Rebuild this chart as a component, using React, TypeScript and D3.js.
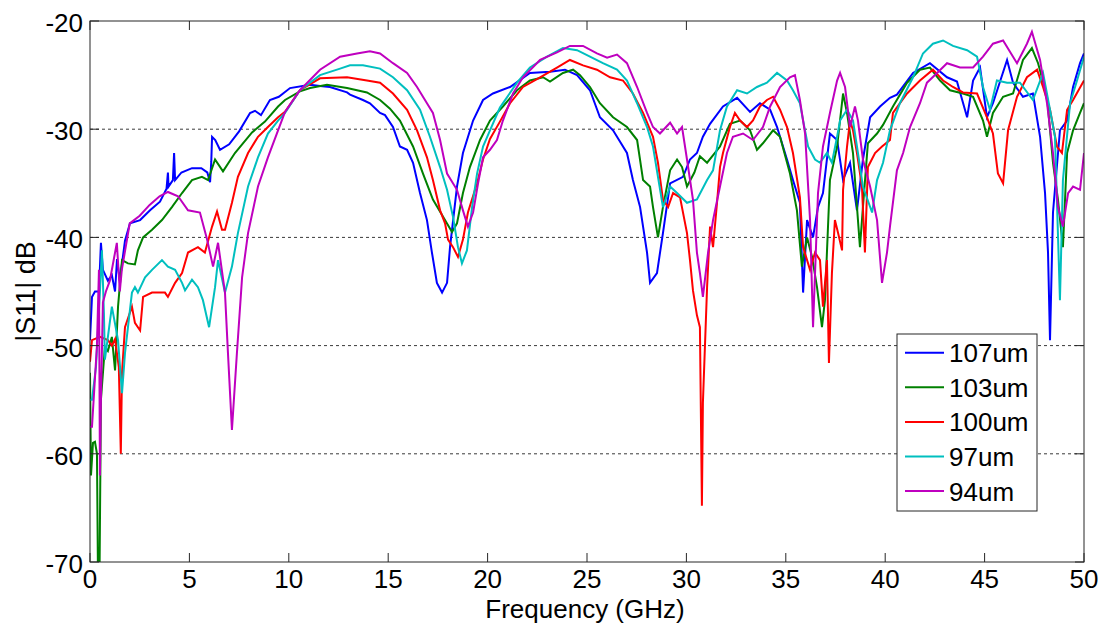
import React from "react";
import * as d3 from "d3";

const X_TICKS = [0, 5, 10, 15, 20, 25, 30, 35, 40, 45, 50];
const Y_TICKS = [-70, -60, -50, -40, -30, -20];
const GRID_Y = [-60, -50, -40, -30];
const LEGEND_LABELS = ["107um", "103um", "100um", "97um", "94um"];
const COLORS = ["#0000FF", "#008000", "#FF0000", "#00BFBF", "#BF00BF"];

const s107: [number, number][] = [
  [0, -49.5], [0.1, -45.5], [0.25, -45], [0.45, -45], [0.55, -40.5], [0.65, -43], [0.9, -44], [1.1, -43.5],
  [1.26, -45], [1.36, -42], [1.5, -44], [1.76, -40.3], [2.01, -38.7], [2.52, -38.4], [3.02, -37.5], [3.52, -36.7],
  [3.85, -35.5], [3.92, -34], [3.95, -35.3], [4.17, -34.7], [4.23, -32.2], [4.28, -34.7], [4.6, -34], [5.13, -33.6],
  [5.6, -33.6], [5.9, -34], [6.04, -34.9], [6.1, -33], [6.14, -30.7], [6.3, -31], [6.54, -31.9], [7, -31.4],
  [7.5, -30.2], [8.05, -28.5], [8.3, -28.3], [8.6, -28.7], [9.05, -27.3], [9.5, -27], [10.06, -26.2], [11.07, -25.9],
  [11.57, -26], [12.07, -26.1], [12.93, -26.6], [13.08, -26.8], [13.73, -27.3], [14.08, -27.6], [14.59, -28.5],
  [14.84, -28.7], [15.24, -29.8], [15.59, -31.6], [15.95, -31.9], [16.25, -33.1], [16.6, -35.9], [16.95, -38.4],
  [17.2, -41.4], [17.45, -44.2], [17.71, -45.1], [17.96, -44.2], [18.11, -40.9], [18.46, -35.3], [18.76, -32.2],
  [19.27, -29.2], [19.77, -27.3], [20.27, -26.7], [21.13, -26.1], [22.13, -24.8], [23.14, -24.7], [23.89, -24.5],
  [24.5, -25], [25.15, -26.4], [25.65, -28.9], [26.31, -30.1], [27.01, -32.2], [27.31, -34.7], [27.67, -37.2],
  [28.02, -41.4], [28.17, -44.2], [28.52, -43.3], [28.82, -39.6], [29.18, -35], [29.83, -34.4], [30.18, -32.8],
  [30.53, -32.2], [30.83, -30.7], [31.19, -29.5], [31.84, -27.9], [32.55, -27.1], [33.2, -28.4], [33.7, -27.6],
  [34.21, -28.2], [34.56, -29.8], [35.06, -32.8], [35.36, -34.7], [35.71, -36.8], [35.87, -45.1], [36.07, -38.4],
  [36.37, -40], [36.62, -37.2], [36.87, -35.9], [37.22, -30.4], [37.58, -31], [37.88, -34.7], [38.23, -33.1],
  [38.58, -37.5], [38.88, -32.8], [39.24, -28.9], [39.74, -27.9], [40.24, -27.1], [40.59, -26.8], [41.4, -24.8],
  [42.25, -23.9], [43.11, -25.2], [43.61, -25.6], [44.12, -28.9], [44.42, -25.5], [44.77, -24.3], [45.12, -28.9],
  [45.42, -27.6], [46.13, -23.6], [46.43, -25.7], [46.93, -27], [47.43, -26.7], [47.79, -30.7], [48.04, -35.9],
  [48.19, -41.4], [48.29, -49.5], [48.44, -37.7], [48.79, -30.1], [49.15, -29.2], [49.45, -26.1], [49.8, -23.9],
  [50, -23],
];

const s103: [number, number][] = [
  [0, -52.5], [0.05, -62], [0.15, -59], [0.25, -58.9], [0.35, -60], [0.4, -71], [0.48, -71], [0.55, -55],
  [0.75, -50.1], [0.9, -50.5], [1.1, -49.2], [1.26, -52.3], [1.41, -46.4], [1.61, -42.1], [1.91, -42.4],
  [2.26, -42.5], [2.41, -41.2], [2.67, -40], [3.12, -39.3], [3.62, -38.4], [4.12, -37.2], [4.63, -35.9],
  [5.13, -34.7], [5.63, -34.4], [5.94, -34.7], [6.29, -32.8], [6.69, -33.9], [7.29, -32.2], [8.15, -30.3],
  [8.8, -29.3], [9.46, -27.9], [9.81, -27.3], [10.56, -26.5], [11.07, -26.2], [11.92, -25.9], [12.93, -26.2],
  [13.93, -26.6], [14.59, -27.3], [15.09, -28.1], [15.59, -29.2], [16.25, -31.6], [16.75, -34.1], [17.25, -36.5],
  [17.76, -38.1], [18.21, -39.5], [18.46, -38.7], [18.76, -35.9], [19.11, -33.5], [19.62, -31], [20.12, -29.2],
  [20.77, -27.9], [21.48, -26.4], [22.13, -25.5], [22.79, -25.2], [23.14, -25.6], [23.79, -24.8], [24.3, -24.5],
  [24.65, -25], [25.15, -26.1], [25.65, -27.6], [26.31, -28.9], [27.01, -29.8], [27.52, -31], [27.82, -34.7],
  [28.17, -35.3], [28.32, -37.2], [28.57, -40], [28.82, -37.2], [29.18, -33.8], [29.53, -32.8], [29.78, -33.5],
  [30.03, -35.3], [30.4, -34], [30.68, -32.5], [31.04, -33.1], [31.69, -31.6], [32.19, -29.5], [32.7, -29.2],
  [33.2, -30.1], [33.55, -31.9], [33.85, -31.3], [34.36, -30.1], [34.71, -30.7], [35.21, -34.1], [35.56, -37.5],
  [35.81, -42.7], [36.07, -40], [36.32, -41.8], [36.57, -44.6], [36.82, -48.3], [36.97, -45.8], [37.22, -34.7],
  [37.58, -31.6], [37.88, -26.7], [38.08, -28.5], [38.38, -32.2], [38.73, -40.9], [38.88, -37.2], [39.13, -31.3],
  [39.59, -30.4], [39.89, -29.6], [40.39, -27.9], [41.1, -25.7], [41.75, -24.5], [42.25, -24.3], [42.76, -25.5],
  [43.26, -26.4], [43.91, -26.7], [44.42, -27], [44.92, -29.2], [45.12, -30.7], [45.42, -28.5], [45.93, -27],
  [46.43, -26.7], [46.93, -23.6], [47.38, -22.5], [47.69, -23.9], [48.14, -27], [48.44, -33.1], [48.69, -36.5],
  [48.94, -40.9], [49.15, -32.2], [49.45, -30.1], [49.8, -28.5], [50, -27.6],
];

const s100: [number, number][] = [
  [0, -51.5], [0.1, -49.5], [0.5, -49.2], [0.9, -49.5], [1.1, -50], [1.26, -49.4], [1.45, -52], [1.55, -60],
  [1.61, -52.5], [1.76, -48.3], [2.11, -46.4], [2.26, -47.9], [2.52, -48.6], [2.67, -45.5], [3.12, -45.1],
  [3.77, -45.1], [3.92, -45.5], [4.28, -44.2], [4.63, -43.3], [4.93, -41.4], [5.43, -40.9], [5.78, -41.4],
  [6.14, -39], [6.39, -37.6], [6.64, -39.3], [6.79, -39.3], [7.14, -36.8], [7.44, -34.4], [7.95, -32.2],
  [8.45, -30.7], [8.95, -29.8], [9.46, -28.9], [9.81, -28.4], [10.56, -26.4], [11.57, -25.3], [12.93, -25.2],
  [13.93, -25.5], [14.59, -25.7], [15.24, -26.7], [15.95, -28.2], [16.45, -30.1], [16.95, -32.6], [17.25, -34.7],
  [17.61, -37.5], [17.86, -38.7], [18.01, -40.2], [18.26, -40.9], [18.51, -41.8], [18.76, -40.2], [19.01, -37.7],
  [19.47, -35], [19.77, -32.8], [20.12, -30.9], [20.62, -29.3], [21.13, -27.6], [21.78, -26.1], [22.64, -25.2],
  [23.49, -24.3], [24.14, -23.6], [24.8, -24.1], [25.5, -24.5], [26.16, -25.2], [26.81, -25.5], [27.31, -26.7],
  [27.82, -28.5], [28.32, -30.7], [28.57, -33.1], [28.82, -36.5], [29.08, -37.2], [29.33, -35.9], [29.68, -36.3],
  [30.03, -39.6], [30.18, -42.1], [30.33, -44.9], [30.53, -47.2], [30.68, -48.3], [30.78, -64.8], [30.83, -55.3],
  [31.04, -44.6], [31.19, -39], [31.34, -40.9], [31.54, -36.8], [31.69, -33.5], [31.84, -32.2], [32.19, -29.8],
  [32.44, -28.5], [32.7, -29.2], [33.05, -29.8], [33.35, -29.2], [33.7, -27.9], [34.05, -27.3], [34.36, -27],
  [34.71, -28.2], [35.06, -29.8], [35.36, -32.2], [35.71, -36.3], [35.87, -40.9], [36.22, -43], [36.47, -41.4],
  [36.72, -42.1], [36.87, -46.4], [37.07, -42.1], [37.17, -51.6], [37.32, -43.3], [37.47, -38.4], [37.63, -39.6],
  [37.83, -41.2], [37.88, -35.6], [38.08, -31.6], [38.23, -29.2], [38.38, -30.1], [38.58, -32.2], [38.83, -35.3],
  [38.98, -41.4], [39.13, -33.5], [39.49, -32.2], [39.84, -31.6], [40.24, -31], [40.39, -28.5], [41.1, -26.7],
  [41.75, -25.5], [42.4, -24.5], [42.91, -25.5], [43.41, -26.1], [43.91, -26.6], [44.62, -26.7], [45.12, -28.9],
  [45.42, -30.4], [45.67, -34.1], [45.93, -35], [46.18, -30.1], [46.63, -27], [47.13, -25.2], [47.64, -24.5],
  [47.94, -26.1], [48.29, -28.2], [48.64, -31.6], [48.89, -32.2], [49.15, -28.2], [49.45, -27.3], [50, -25.5],
];

const s97: [number, number][] = [
  [0, -55], [0.1, -55], [0.3, -52], [0.5, -45], [0.6, -41.2], [0.7, -47], [0.75, -51.3], [1.1, -46.4],
  [1.41, -49.5], [1.61, -54.4], [1.76, -50.7], [2.11, -45.1], [2.26, -44.6], [2.41, -45.1], [2.77, -43.7],
  [3.12, -43], [3.62, -42.1], [3.92, -42.7], [4.28, -43], [4.63, -44.2], [4.78, -44.9], [5.13, -43.9],
  [5.43, -44.6], [5.68, -45.8], [5.99, -48.3], [6.29, -44.6], [6.44, -42.1], [6.79, -45.1], [7.14, -42.7],
  [7.44, -39.6], [7.95, -35.3], [8.45, -32.6], [8.95, -30.4], [9.46, -29.2], [9.81, -28.5], [10.56, -26.4],
  [11.57, -25], [12.58, -24.4], [13.08, -24.1], [13.73, -24.1], [14.59, -24.4], [15.24, -25.2], [15.95, -26.4],
  [16.6, -28.2], [17.1, -30.7], [17.61, -33.5], [17.96, -35.6], [18.26, -38.1], [18.51, -40.9], [18.71, -42.4],
  [18.96, -41.2], [19.22, -37.2], [19.47, -34.1], [19.77, -31.6], [20.12, -30.1], [20.62, -28], [21.48, -25.7],
  [22.13, -24.3], [22.99, -23.3], [23.79, -22.5], [24.5, -22.7], [25.15, -23.3], [25.8, -23.9], [26.51, -24.5],
  [27.01, -25.5], [27.52, -27.6], [28.02, -29.8], [28.32, -31.6], [28.57, -34.4], [28.82, -37.2], [29.18, -35.3],
  [29.53, -35.9], [30.03, -36.8], [30.53, -36.5], [31.04, -34.7], [31.34, -33.8], [31.69, -30.1], [32.04, -27.9],
  [32.55, -26.4], [33.05, -26.7], [33.55, -26.1], [34.05, -25.7], [34.56, -24.8], [35.06, -25.5], [35.36, -26.4],
  [35.71, -27.6], [35.87, -29.2], [36.12, -31.6], [36.47, -32.8], [36.72, -33.1], [37.07, -32.2], [37.32, -33.1],
  [37.58, -30.7], [37.73, -29.2], [38.08, -28.2], [38.38, -29.2], [38.58, -31.6], [38.88, -35.3], [39.34, -37.7],
  [39.59, -34.7], [39.89, -33.1], [40.24, -30.1], [40.74, -27.6], [41.4, -25.2], [41.9, -23], [42.4, -22.1],
  [42.91, -21.8], [43.41, -22.3], [44.12, -22.7], [44.62, -23.3], [44.92, -26.1], [45.27, -28.2], [45.62, -25.5],
  [46.13, -25.7], [46.78, -25.7], [47.43, -27.3], [47.94, -24.8], [48.29, -28.2], [48.54, -30.7], [48.79, -45.8],
  [48.94, -34.7], [49.3, -27.6], [49.65, -25.5], [50, -23.3],
];

const s94: [number, number][] = [
  [0, -57.5], [0.1, -57.5], [0.25, -53], [0.35, -50], [0.45, -43], [0.5, -62], [0.55, -55], [0.65, -46],
  [0.8, -45], [1.0, -44], [1.2, -42], [1.35, -40.5], [1.5, -45], [1.6, -43], [2.0, -38.7], [2.5, -38],
  [3.0, -37], [3.5, -36.2], [3.92, -35.8], [4.43, -36.2], [4.93, -37.5], [5.53, -37.7], [5.89, -40.2],
  [6.19, -42.7], [6.44, -40.5], [6.79, -45.1], [6.94, -50.7], [7.14, -57.8], [7.39, -50.7], [7.65, -43.7],
  [7.95, -39.6], [8.45, -35.3], [8.95, -32.6], [9.46, -30.1], [9.81, -28.4], [10.56, -26.4], [11.57, -24.5],
  [12.58, -23.3], [13.43, -23], [14.08, -22.8], [14.59, -23], [15.24, -23.9], [15.95, -24.8], [16.45, -26.1],
  [16.95, -27.6], [17.25, -28.5], [17.61, -31], [17.96, -34.1], [18.46, -35.6], [18.76, -37.5], [19.01, -39],
  [19.27, -37.7], [19.52, -35], [19.77, -32.6], [20.12, -31.9], [20.47, -31], [20.77, -29.2], [21.28, -26.7],
  [21.78, -25.2], [22.64, -23.6], [23.49, -22.9], [24.14, -22.3], [24.8, -22.3], [25.5, -23], [26.01, -23.4],
  [26.51, -23.1], [27.01, -23.9], [27.52, -26.1], [28.02, -28.5], [28.32, -29.8], [28.67, -30.4], [29.18, -29.4],
  [29.53, -30.4], [29.78, -29.8], [30.03, -32.8], [30.33, -36.5], [30.53, -41.4], [30.68, -43.3], [30.83, -45.5],
  [31.09, -41.4], [31.34, -38.4], [31.69, -35.3], [32.04, -32.2], [32.34, -30.7], [32.85, -30.4], [33.35, -31],
  [33.85, -29.8], [34.21, -27.9], [34.71, -26.1], [35.21, -25.2], [35.46, -25], [35.71, -27.3], [35.97, -30.4],
  [36.22, -38.4], [36.37, -48.3], [36.62, -35.9], [36.87, -31.6], [37.22, -28.5], [37.58, -25.5], [37.73, -24.8],
  [37.98, -26.1], [38.23, -29.8], [38.48, -27.9], [38.63, -29.2], [38.88, -32.8], [39.24, -35.3], [39.59, -38.4],
  [39.84, -44.2], [40.09, -41.4], [40.24, -39], [40.59, -33.8], [40.9, -32.2], [41.25, -29.8], [41.75, -27.6],
  [42.1, -25.7], [42.61, -24.8], [43.11, -23.9], [43.76, -24.3], [44.42, -24.3], [44.92, -23.3], [45.42, -22.1],
  [45.93, -21.8], [46.43, -23.3], [46.63, -23.9], [47.13, -22.1], [47.38, -21], [47.79, -23.6], [48.14, -27.6],
  [48.44, -32.2], [48.69, -37.2], [48.94, -39], [49.2, -35.9], [49.45, -35.3], [49.8, -35.6], [50, -32.2],
];

const SERIES = [s107, s103, s100, s97, s94];

const W = 1113;
const H = 629;
const L = 90;
const R = 1084;
const T = 21;
const B = 562;
const FONT = "Arial, 'Liberation Sans', Helvetica, sans-serif";
const AX = "#262626";
const FS = 26;

export default function App() {
  const x = d3.scaleLinear().domain([0, 50]).range([L, R]);
  const y = d3.scaleLinear().domain([-70, -20]).range([B, T]);
  const line = d3
    .line<[number, number]>()
    .x((d) => x(d[0]))
    .y((d) => y(d[1]));

  const legX = 897;
  const legY = 334;
  const legW = 140;
  const legH = 177;
  const rowY = (i: number) => legY + 18.7 + i * 34.6;

  return (
    <svg
      width={W}
      height={H}
      style={{ position: "absolute", left: 0, top: 0, background: "#fff" }}
      fontFamily={FONT}
    >
      <defs>
        <clipPath id="plotclip">
          <rect x={L} y={T} width={R - L} height={B - T} />
        </clipPath>
      </defs>
      <rect x={0} y={0} width={W} height={H} fill="#fff" />
      {GRID_Y.map((v) => (
        <line
          key={"g" + v}
          x1={L}
          x2={R}
          y1={y(v)}
          y2={y(v)}
          stroke="#3a3a3a"
          strokeWidth={1}
          strokeDasharray="3,3"
        />
      ))}
      <g clipPath="url(#plotclip)">
        {SERIES.map((s, i) => (
          <path
            key={"s" + i}
            d={line(s) || ""}
            fill="none"
            stroke={COLORS[i]}
            strokeWidth={2}
            strokeLinejoin="miter"
          />
        ))}
      </g>
      <rect x={L} y={T} width={R - L} height={B - T} fill="none" stroke={AX} strokeWidth={1} />
      {X_TICKS.map((v) => (
        <g key={"xt" + v}>
          <line x1={x(v)} x2={x(v)} y1={B} y2={B - 9} stroke={AX} />
          <line x1={x(v)} x2={x(v)} y1={T} y2={T + 9} stroke={AX} />
          <text x={x(v)} y={588} textAnchor="middle" fontSize={FS} fill="#000">
            {v}
          </text>
        </g>
      ))}
      {Y_TICKS.map((v) => (
        <g key={"yt" + v}>
          <line x1={L} x2={L + 9} y1={y(v)} y2={y(v)} stroke={AX} />
          <line x1={R} x2={R - 9} y1={y(v)} y2={y(v)} stroke={AX} />
          <text x={83} y={y(v) + 11} textAnchor="end" fontSize={FS} fill="#000">
            {v}
          </text>
        </g>
      ))}
      <text x={585} y={618} textAnchor="middle" fontSize={26} fill="#000">
        Frequency (GHz)
      </text>
      <text
        transform={`translate(35, ${(T + B) / 2}) rotate(-90)`}
        textAnchor="middle"
        fontSize={27}
        fill="#000"
      >
        |S11| dB
      </text>
      <rect x={legX} y={legY} width={legW} height={legH} fill="#fff" stroke={AX} strokeWidth={1} />
      {LEGEND_LABELS.map((lab, i) => (
        <g key={"l" + i}>
          <line x1={905} x2={944} y1={rowY(i)} y2={rowY(i)} stroke={COLORS[i]} strokeWidth={2} />
          <text x={949} y={rowY(i) + 9.5} fontSize={FS} fill="#000">
            {lab}
          </text>
        </g>
      ))}
    </svg>
  );
}
